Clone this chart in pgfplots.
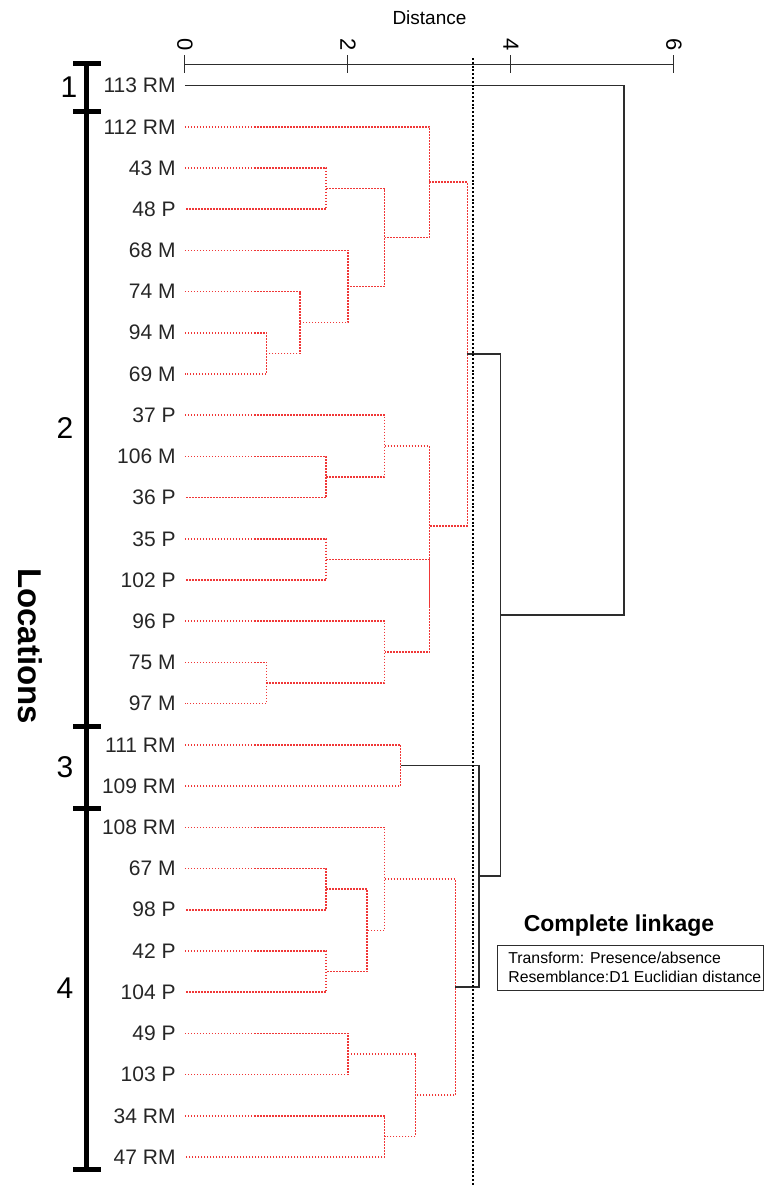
\documentclass[border=0pt]{standalone}
\usepackage{pgfplots}
\pgfplotsset{compat=1.18}
\usepackage{fontspec}
\setmainfont{Liberation Sans}
\definecolor{dred}{RGB}{240,55,55}
\definecolor{dk}{RGB}{45,45,45}
\begin{document}
\begin{tikzpicture}[x=1pt,y=1pt]
\path[use as bounding box] (-92.5,0) rectangle (295,594.5);
\begin{axis}[
  at={(0,0)}, anchor=south west,
  scale only axis, width=244.5pt, height=562.35pt,
  xmin=0, xmax=6, ymin=0.4856, ymax=27.777,
  y dir=reverse,
  clip=false,
  axis x line*=top,
  axis y line*=left,
  y axis line style={draw=none},
  x axis line style={line width=0.5pt, dk},
  xtick={0,2,4,6},
  xticklabels={},
  tick align=center,
  major tick length=9pt,
  xtick style={line width=0.5pt, dk},
  ytick style={draw=none},
  ytick={1,...,27},
  yticklabels={113 RM,112 RM,43 M,48 P,68 M,74 M,94 M,69 M,37 P,106 M,36 P,35 P,102 P,96 P,75 M,97 M,111 RM,109 RM,108 RM,67 M,98 P,42 P,104 P,49 P,103 P,34 RM,47 RM},
  yticklabel style={anchor=east, inner sep=0pt, font=\fontsize{10.5}{12}\selectfont, text=black!85},
  red/.style={dred, line width=0.8pt, dash pattern=on 0.75pt off 0.75pt, no marks},
  blk/.style={dk, line width=0.75pt, no marks},
]
% group bracket
\addplot[black, line width=2.5pt, no marks] coordinates {(-1.206,0.4613) (-1.206,27.292)};
\addplot[black, line width=2.5pt, no marks] coordinates {(-1.374,0.4613) (-1.031,0.4613)};
\addplot[black, line width=2.5pt, no marks] coordinates {(-1.374,1.6358) (-1.031,1.6358)};
\addplot[black, line width=2.5pt, no marks] coordinates {(-1.374,16.542) (-1.031,16.542)};
\addplot[black, line width=2.5pt, no marks] coordinates {(-1.374,18.532) (-1.031,18.532)};
\addplot[black, line width=2.5pt, no marks] coordinates {(-1.374,27.292) (-1.031,27.292)};
% red merges (cluster 2)
\addplot[red] coordinates {(0,7) (1,7) (1,8) (0,8)};
\addplot[red] coordinates {(0,6) (1.414,6) (1.414,7.5) (1,7.5)};
\addplot[red] coordinates {(0,5) (2,5) (2,6.75) (1.414,6.75)};
\addplot[red] coordinates {(0,3) (1.732,3) (1.732,4) (0,4)};
\addplot[red] coordinates {(1.732,3.5) (2.449,3.5) (2.449,5.875) (2,5.875)};
\addplot[red] coordinates {(0,2) (3,2) (3,4.6875) (2.449,4.6875)};
\addplot[red] coordinates {(0,10) (1.732,10) (1.732,11) (0,11)};
\addplot[red] coordinates {(0,9) (2.449,9) (2.449,10.5) (1.732,10.5)};
\addplot[red] coordinates {(0,12) (1.732,12) (1.732,13) (0,13)};
\addplot[red] coordinates {(0,15) (1,15) (1,16) (0,16)};
\addplot[red] coordinates {(0,14) (2.449,14) (2.449,15.5) (1,15.5)};
\addplot[red] coordinates {(1.732,12.5) (3,12.5) (3,14.75) (2.449,14.75)};
\addplot[red] coordinates {(2.449,9.75) (3,9.75) (3,13.625) (3,13.625)};
\addplot[red] coordinates {(3,3.34375) (3.464,3.34375) (3.464,11.6875) (3,11.6875)};
% cluster 3
\addplot[red] coordinates {(0,17) (2.646,17) (2.646,18) (0,18)};
% cluster 4
\addplot[red] coordinates {(0,20) (1.732,20) (1.732,21) (0,21)};
\addplot[red] coordinates {(0,22) (1.732,22) (1.732,23) (0,23)};
\addplot[red] coordinates {(1.732,20.5) (2.236,20.5) (2.236,22.5) (1.732,22.5)};
\addplot[red] coordinates {(0,19) (2.449,19) (2.449,21.5) (2.236,21.5)};
\addplot[red] coordinates {(0,24) (2,24) (2,25) (0,25)};
\addplot[red] coordinates {(0,26) (2.449,26) (2.449,27) (0,27)};
\addplot[red] coordinates {(2,24.5) (2.828,24.5) (2.828,26.5) (2.449,26.5)};
\addplot[red] coordinates {(2.449,20.25) (3.317,20.25) (3.317,25.5) (2.828,25.5)};
% black upper merges
\addplot[blk] coordinates {(2.646,17.5) (3.606,17.5) (3.606,22.875) (3.317,22.875)};
\addplot[blk] coordinates {(3.464,7.515625) (3.873,7.515625) (3.873,20.1875) (3.606,20.1875)};
\addplot[blk] coordinates {(0,1) (5.385,1) (5.385,13.8516) (3.873,13.8516)};
% cut-off line
\addplot[black, line width=1pt, dash pattern=on 1pt off 0.9pt, no marks] coordinates {(3.53,0.333) (3.53,27.68)};
% rotated tick labels
\node[rotate=-90, font=\fontsize{11}{13}\selectfont] at (axis cs:0,0.005) {0};
\node[rotate=-90, font=\fontsize{11}{13}\selectfont] at (axis cs:2,0.005) {2};
\node[rotate=-90, font=\fontsize{11}{13}\selectfont] at (axis cs:4,0.005) {4};
\node[rotate=-90, font=\fontsize{11}{13}\selectfont] at (axis cs:6,0.005) {6};
% annotations
\node[font=\fontsize{9.5}{11}\selectfont] at (axis cs:3,-0.638) {Distance};
\node[font=\fontsize{15}{18}\selectfont] at (axis cs:-1.423,1.05) {1};
\node[font=\fontsize{15}{18}\selectfont] at (axis cs:-1.472,9.31) {2};
\node[font=\fontsize{15}{18}\selectfont] at (axis cs:-1.472,17.54) {3};
\node[font=\fontsize{15}{18}\selectfont] at (axis cs:-1.472,22.91) {4};
\node[font=\fontsize{16.5}{20}\selectfont\bfseries, rotate=-90] at (axis cs:-1.902,14.60) {Locations};
\node[font=\fontsize{11.5}{14}\selectfont\bfseries] at (axis cs:5.325,21.39) {Complete linkage};
\draw[dk, line width=0.5pt] (axis cs:3.840,21.88) rectangle (axis cs:7.104,22.97);
\node[font=\fontsize{7.9}{9.5}\selectfont, anchor=west, inner sep=0pt] at (axis cs:3.963,22.17) {Transform: Presence/absence};
\node[font=\fontsize{7.9}{9.5}\selectfont, anchor=west, inner sep=0pt] at (axis cs:3.963,22.63) {Resemblance:D1 Euclidian distance};
\end{axis}
\end{tikzpicture}
\end{document}
